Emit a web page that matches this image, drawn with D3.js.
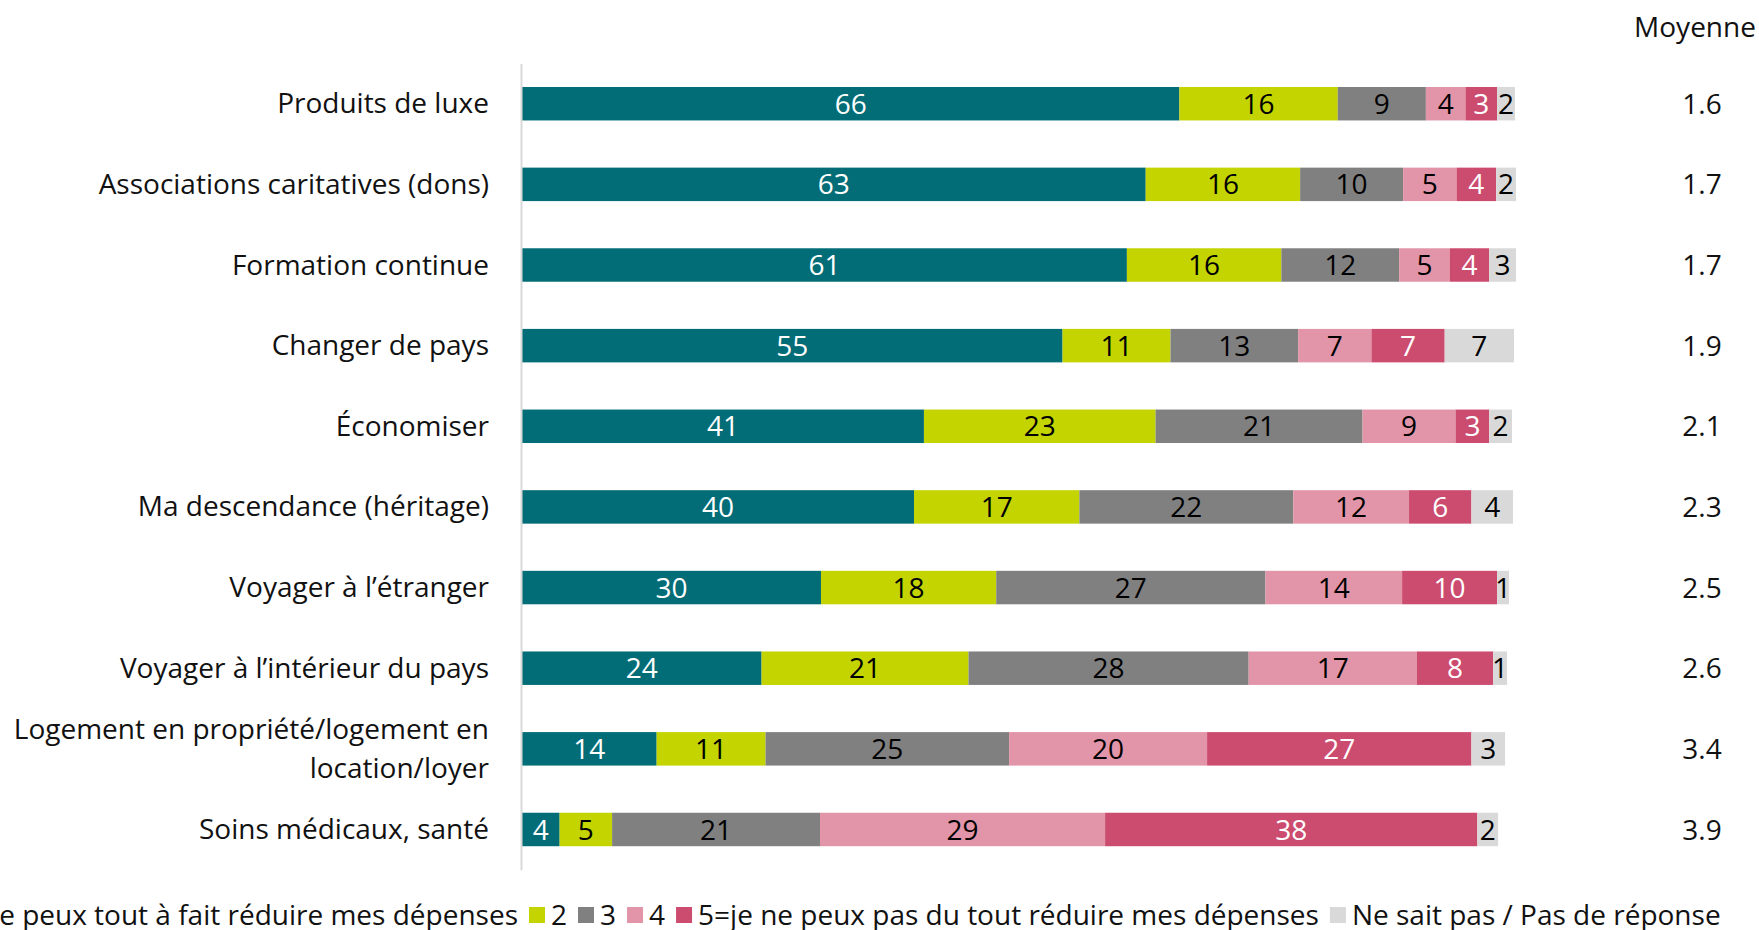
<!DOCTYPE html>
<html>
<head>
    <meta charset="utf-8">
    <title>Réduire mes dépenses</title>
    <script src="https://cdn.jsdelivr.net/npm/d3@7"></script>
    <style>
        html, body { margin: 0; padding: 0; background: #fff; }
        svg { display: block; font-family: "Open Sans", "Noto Sans", sans-serif; }
        .cat text, .legend text, .mean, .head { fill: #111; }
    </style>
</head>
<body>
    <svg id="chart" width="1759" height="930"></svg>

    <script>
        // categories, top to bottom
        const categories = [
            "Produits de luxe",
            "Associations caritatives (dons)",
            "Formation continue",
            "Changer de pays",
            "Économiser",
            "Ma descendance (héritage)",
            "Voyager à l’étranger",
            "Voyager à l’intérieur du pays",
            "Logement en propriété/logement en location/loyer",
            "Soins médicaux, santé"
        ];

        // answer scale, 1 to 5 plus no answer
        const series = [
            "1=je peux tout à fait réduire mes dépenses",
            "2", "3", "4",
            "5=je ne peux pas du tout réduire mes dépenses",
            "Ne sait pas / Pas de réponse"
        ];

        // % per category, one array per answer
        const v1 = [66.4, 63.0, 61.1, 54.6, 40.6, 39.6, 30.2, 24.2, 13.6, 3.8];
        const v2 = [16.0, 15.6, 15.6, 10.9, 23.4, 16.7, 17.7, 20.9, 11.0, 5.3];
        const v3 = [8.9, 10.4, 11.9, 12.9, 20.9, 21.6, 27.2, 28.3, 24.6, 21.0];
        const v4 = [4.0, 5.4, 5.1, 7.4, 9.4, 11.7, 13.8, 17.0, 20.0, 28.8];
        const v5 = [3.2, 4.0, 4.0, 7.4, 3.4, 6.3, 9.6, 7.7, 26.7, 37.6];
        const vNA = [1.8, 2.0, 2.7, 7.0, 2.3, 4.2, 1.2, 1.4, 3.4, 2.1];

        const means = ["1.6", "1.7", "1.7", "1.9", "2.1", "2.3", "2.5", "2.6", "3.4", "3.9"];

        const colors = ["#026c77", "#c3d400", "#808080", "#e295a8", "#cc4c70", "#d9d9d9"];
        const labelColors = ["#fff", "#000", "#000", "#000", "#fff", "#000"];

        const svg = d3.select("#chart");
        const fontSize = 28;

        const x = d3.scaleLinear().domain([0, 100]).range([522, 1512]);
        const y = d3.scaleBand()
            .domain(categories)
            .range([63.4, 869.8])
            .paddingInner(0.585)
            .paddingOuter(0.2925);

        // build stacked rows
        const rows = categories.map((c, i) => {
            const vals = [v1[i], v2[i], v3[i], v4[i], v5[i], vNA[i]];
            let acc = 0;
            return vals.map((v, k) => {
                const seg = { cat: c, k: k, v: v, x0: acc, x1: acc + v };
                acc += v;
                return seg;
            });
        });

        const seg = svg.append("g").selectAll("g")
            .data(rows)
            .join("g")
            .selectAll("g")
            .data(d => d)
            .join("g");

        seg.append("rect")
            .attr("x", d => x(d.x0))
            .attr("y", d => y(d.cat))
            .attr("width", d => x(d.x1) - x(d.x0))
            .attr("height", y.bandwidth())
            .attr("fill", d => colors[d.k]);

        seg.append("text")
            .attr("x", d => (x(d.x0) + x(d.x1)) / 2)
            .attr("y", d => y(d.cat) + y.bandwidth() / 2)
            .attr("dy", "0.36em")
            .attr("text-anchor", "middle")
            .attr("font-size", fontSize)
            .attr("fill", d => labelColors[d.k])
            .text(d => Math.round(d.v));

        // category axis
        const axis = svg.append("g")
            .attr("class", "cat")
            .attr("transform", `translate(${x(0) - 1},0)`)
            .call(d3.axisLeft(y).tickSize(0).tickPadding(32));

        axis.select(".domain").attr("stroke", "#d9d9d9").attr("stroke-width", 2);
        axis.selectAll(".tick text")
            .attr("font-size", fontSize)
            .attr("font-family", "'Open Sans', 'Noto Sans', sans-serif")
            .call(wrap, 490);

        function wrap(texts, width) {
            texts.each(function () {
                const t = d3.select(this);
                const words = t.text().split(" ");
                const tx = t.attr("x");
                const lines = [];
                let line = [];
                t.text(null);
                const probe = t.append("tspan");
                words.forEach(w => {
                    line.push(w);
                    probe.text(line.join(" "));
                    if (probe.node().getComputedTextLength() > width && line.length > 1) {
                        line.pop();
                        lines.push(line.join(" "));
                        line = [w];
                    }
                });
                lines.push(line.join(" "));
                probe.remove();
                const lh = 1.4;
                lines.forEach((l, i) => {
                    t.append("tspan")
                        .attr("x", tx)
                        .attr("dy", (i === 0 ? 0.34 - (lines.length - 1) * lh / 2 : lh) + "em")
                        .text(l);
                });
                t.attr("dy", null);
            });
        }

        // mean column
        svg.append("text")
            .attr("class", "head")
            .attr("x", 1695)
            .attr("y", 27)
            .attr("dy", "0.36em")
            .attr("text-anchor", "middle")
            .attr("font-size", fontSize)
            .text("Moyenne");

        svg.append("g").selectAll("text")
            .data(categories)
            .join("text")
            .attr("class", "mean")
            .attr("x", 1702)
            .attr("y", d => y(d) + y.bandwidth() / 2)
            .attr("dy", "0.36em")
            .attr("text-anchor", "middle")
            .attr("font-size", fontSize)
            .text((d, i) => means[i]);

        // legend, first entry runs off the left edge as in the original
        const legend = svg.append("g").attr("class", "legend");
        const sw = 16, gap = 6, itemGap = 11, ly = 915;
        const items = legend.selectAll("g").data(series).join("g");
        items.append("rect")
            .attr("width", sw).attr("height", sw)
            .attr("y", ly - sw / 2)
            .attr("fill", (d, i) => colors[i]);
        items.append("text")
            .attr("y", ly)
            .attr("dy", "0.34em")
            .attr("font-size", fontSize)
            .text(d => d);

        const widths = [];
        items.select("text").each(function () { widths.push(this.getComputedTextLength()); });
        let cx = 518 - widths[0] - gap - sw;
        items.each(function (d, i) {
            const g = d3.select(this);
            g.select("rect").attr("x", cx);
            g.select("text").attr("x", cx + sw + gap);
            cx += sw + gap + widths[i] + itemGap;
        });
    </script>
</body>
</html>
